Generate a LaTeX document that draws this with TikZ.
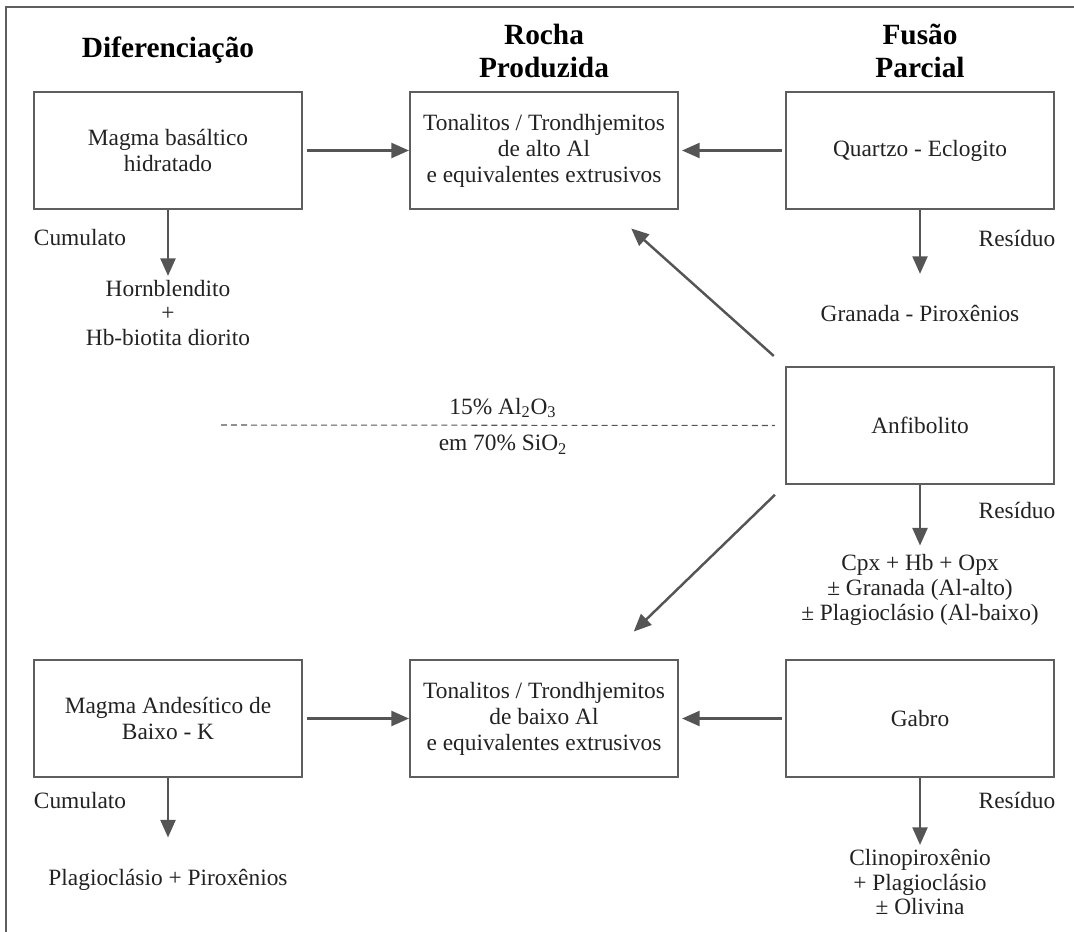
\documentclass[tikz,border=0pt]{standalone}
\usepackage{fontspec}
\setmainfont{Liberation Serif}
\usetikzlibrary{arrows.meta}
\definecolor{linegray}{HTML}{555555}
\definecolor{boxgray}{HTML}{5E5E5E}
\definecolor{txtgray}{HTML}{222222}
\tikzset{
	rockbox/.style={draw=boxgray, line width=1.2pt, minimum width=5.36cm, minimum height=2.34cm, align=center, text=txtgray, font=\fontsize{13.3}{14.8}\selectfont},
	txt/.style={align=center, inner sep=2pt, text=txtgray, font=\fontsize{13.3}{14.2}\selectfont},
	head/.style={align=center, text=black, font=\fontsize{16.7}{18.8}\selectfont\bfseries},
	flow/.style={draw=linegray, line width=1.4pt, -{Triangle[length=10pt,width=8.5pt]}},
}

\begin{document}
\begin{tikzpicture}[x=0.02cm, y=-0.02cm]
		%%%%% START %%%%%
		\useasboundingbox (0,0) rectangle (1074,932);
		\draw[boxgray, line width=1.3pt] (6,932) -- (6,7) -- (1074,7);
		
		\node[head] (hdif) at (168, 50) {Diferenciação};
		\node[head] (hroc) at (544, 51) {Rocha\\Produzida};
		\node[head] (hfus) at (920, 51) {Fusão\\Parcial};
		
		\node[rockbox] (magA) at (168, 150.5) {Magma basáltico\\hidratado};
		\node[rockbox] (tonA) at (544, 150.5) {Tonalitos / Trondhjemitos\\de alto Al\\e equivalentes extrusivos};
		\node[rockbox] (qzE) at (920, 150.5) {Quartzo - Eclogito};
		\node[rockbox] (anf) at (920, 425.5) {Anfibolito};
		\node[rockbox] (magB) at (168, 718.5) {Magma Andesítico de\\Baixo - K};
		\node[rockbox] (tonB) at (544, 718.5) {Tonalitos / Trondhjemitos\\de baixo Al\\e equivalentes extrusivos};
		\node[rockbox] (gab) at (920, 718.5) {Gabro};
		
		\node[txt] (cumA) at (80, 238) {Cumulato};
		\node[txt] (resA) at (1017, 238) {Resíduo};
		\node[txt] (hbl) at (168, 313) {Hornblendito\\+\\Hb-biotita diorito};
		\node[txt] (grp) at (920, 313) {Granada - Piroxênios};
		\node[txt] (resB) at (1017, 510) {Resíduo};
		\node[txt] (cpx) at (920, 590) {Cpx + Hb + Opx\\± Granada (Al-alto)\\± Plagioclásio (Al-baixo)};
		\node[txt] (cumB) at (80, 800) {Cumulato};
		\node[txt] (resC) at (1017, 800) {Resíduo};
		\node[txt] (plpx) at (168, 880) {Plagioclásio + Piroxênios};
		\node[txt] (clin) at (920, 882) {Clinopiroxênio\\+ Plagioclásio\\± Olivina};
		
		% 15% Al2O3 em 70% SiO2
		\node[txt] (alo) at (503, 408) {15\% Al\textsubscript{2}O\textsubscript{3}};
		\node[txt] (sio) at (503, 445) {em 70\% SiO\textsubscript{2}};
		\coordinate (dashL) at (221, 425);
		\draw[linegray, line width=0.6pt, dash pattern=on 3.4pt off 2.3pt, shorten >=0.2cm] (dashL) -- (anf.west);
		
		\draw[flow, shorten <=0.08cm] (magA) -- (tonA);
		\draw[flow, shorten <=0.06cm, shorten >=0.06cm] (qzE) -- (tonA);
		\draw[flow, shorten <=0.08cm] (magB) -- (tonB);
		\draw[flow, shorten <=0.06cm, shorten >=0.06cm] (gab) -- (tonB);
		
		\draw[flow] (magA) -- (hbl);
		\draw[flow, shorten >=0.54cm] (qzE) -- (grp);
		\draw[flow, shorten >=0.1cm] (anf) -- (cpx);
		\draw[flow, shorten >=0.56cm] (magB) -- (plpx);
		\draw[flow] (gab) -- (clin);
		
		\draw[flow, shorten <=0.3cm, shorten >=2.34cm] (anf.north west) -- (tonA.center);
		\draw[flow, shorten <=0.28cm, shorten >=2.5cm] (anf.south west) -- (tonB.center);
		%%%%% END %%%%%
\end{tikzpicture}
\end{document}
